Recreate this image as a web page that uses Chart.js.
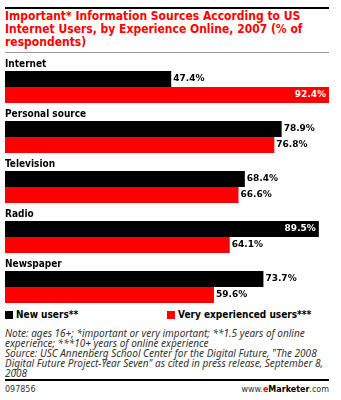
<!DOCTYPE html>
<html>
<head>
<meta charset="utf-8">
<script src="https://cdn.jsdelivr.net/npm/chart.js@4"></script>
<style>
  body { margin: 0; width: 341px; height: 400px; position: relative; background: #fff; font-family: "DejaVu Sans", sans-serif; overflow: hidden; }
  #topline { position: absolute; left: 5px; top: 7px; width: 324px; height: 2px; background: #000; }
  #title { position: absolute; left: 5px; top: 10px; width: 324px; color: #ff0000; font: bold 12px/13px "DejaVu Sans Condensed", "DejaVu Sans", sans-serif; font-stretch: condensed; white-space: nowrap; }
  #grayline { position: absolute; left: 5px; top: 52px; width: 324px; height: 1px; background: #999; }
  #wrap { position: absolute; left: 0; top: 54px; width: 341px; height: 250px; }
  #legend { position: absolute; left: 5px; top: 309px; width: 330px; font: bold 10px "DejaVu Sans Condensed", "DejaVu Sans", sans-serif; font-stretch: condensed; color: #000; }
  #legend span.item { position: absolute; white-space: nowrap; }
  #legend i { display: inline-block; width: 8px; height: 8px; margin-right: 3px; vertical-align: -1px; }
  #note { position: absolute; left: 5px; top: 328px; width: 336px; font: italic 10px/10px "Noto Sans", sans-serif; color: #333; white-space: nowrap; }
  #botline { position: absolute; left: 5px; top: 379px; width: 324px; height: 2px; background: #000; }
  #code { position: absolute; left: 5px; top: 385px; font: 8px "DejaVu Sans", sans-serif; color: #333; }
  #brand { position: absolute; right: 12px; top: 385px; font: 8px "DejaVu Sans", sans-serif; color: #333; }
</style>
</head>
<body>
<div id="topline"></div>
<div id="title">Important* Information Sources According to US<br>Internet Users, by Experience Online, 2007 (% of<br>respondents)</div>
<div id="grayline"></div>
<div id="wrap"><canvas id="myChart"></canvas></div>
<div id="legend"></div>
<div id="note">Note: ages 16+; *important or very important; **1.5 years of online<br>experience; ***10+ years of online experience<br>Source: USC Annenberg School Center for the Digital Future, "The 2008<br>Digital Future Project-Year Seven" as cited in press release, September 8,<br>2008</div>
<div id="botline"></div>
<div id="code">097856</div>
<div id="brand">www.<b style="color:#ff0000">e</b><b style="color:#000">Marketer</b>.com</div>
<script>
var categories = ["Internet", "Personal source", "Television", "Radio", "Newspaper"];
var newUsers = [47.4, 78.9, 68.4, 89.5, 73.7];
var veryExperienced = [92.4, 76.8, 66.6, 64.1, 59.6];
var seriesNames = ["New users**", "Very experienced users***"];
var seriesColors = ["#000000", "#ff0000"];

// legend
var legendPos = [0, 162];
var lg = document.getElementById("legend");
seriesNames.forEach(function (n, i) {
    var s = document.createElement("span");
    s.className = "item";
    s.style.left = legendPos[i] + "px";
    s.innerHTML = '<i style="background:' + seriesColors[i] + '"></i>' + n;
    lg.appendChild(s);
});

// category names above each group + value labels
var labelsPlugin = {
    id: "labels",
    afterDatasetsDraw: function (chart) {
        var ctx = chart.ctx;
        var left = chart.chartArea.left;
        ctx.save();
        ctx.textBaseline = "middle";
        var first = chart.getDatasetMeta(1);
        first.data.forEach(function (bar, i) {
            ctx.fillStyle = "#000";
            ctx.font = "bold 10px 'DejaVu Sans Condensed', 'DejaVu Sans'";
            ctx.textAlign = "left";
            ctx.fillText(categories[i], left, bar.y - bar.height / 2 - 7);
        });
        [1, 2].forEach(function (d) {
            var meta = chart.getDatasetMeta(d);
            var vals = chart.data.datasets[d].data;
            meta.data.forEach(function (bar, i) {
                ctx.font = "bold 9px 'DejaVu Sans'";
                var txt = vals[i].toFixed(1) + "%";
                if (vals[i] > 85) {
                    ctx.fillStyle = "#fff";
                    ctx.textAlign = "right";
                    ctx.fillText(txt, bar.x - 3, bar.y);
                } else {
                    ctx.fillStyle = "#000";
                    ctx.textAlign = "left";
                    ctx.fillText(txt, bar.x + 2, bar.y);
                }
            });
        });
        ctx.restore();
    }
};

new Chart("myChart", {
    type: "bar",
    data: {
        labels: categories,
        datasets: [{
            // empty slot that leaves room for the category name
            data: categories.map(function () { return null; }),
            backgroundColor: "transparent"
        }, {
            label: seriesNames[0],
            data: newUsers,
            backgroundColor: seriesColors[0]
        }, {
            label: seriesNames[1],
            data: veryExperienced,
            backgroundColor: seriesColors[1]
        }]
    },
    options: {
        indexAxis: "y",
        responsive: true,
        maintainAspectRatio: false,
        animation: false,
        layout: { padding: { left: 5, right: 12, top: 0, bottom: 0 } },
        datasets: { bar: { categoryPercentage: 0.96, barPercentage: 1 } },
        scales: {
            x: { display: false, min: 0, max: 92.4 },
            y: { display: false }
        },
        plugins: {
            legend: { display: false },
            tooltip: { enabled: false }
        }
    },
    plugins: [labelsPlugin]
});
</script>
</body>
</html>
